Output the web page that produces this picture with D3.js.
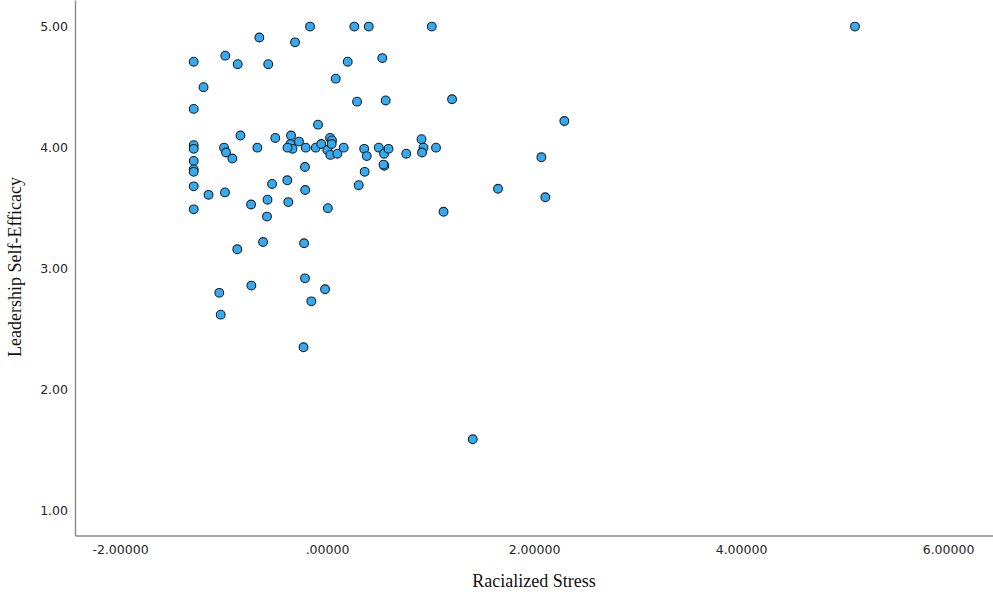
<!DOCTYPE html>
<html>
<head>
<meta charset="utf-8">
<script src="https://cdn.jsdelivr.net/npm/d3@7"></script>
<style>
  body { margin: 0; background: #fff; }
  svg { display: block; }
  .tick text { font-family: "DejaVu Sans", sans-serif; font-size: 12.5px; fill: #262626; }
  .title { font-family: "Liberation Serif", "Times New Roman", serif; font-size: 18px; fill: #111; }
</style>
</head>
<body>
<svg id="chart" width="993" height="592"></svg>
<script>
// racialized stress (x) and leadership self-efficacy (y)
const stress = [
  -1.288, -1.288, -1.288, -1.288, -1.288, -1.288, -1.288, -1.288, -1.288,
  -1.193, -1.145, -0.986, -0.995, -0.976, -0.915, -0.836, -0.673, -0.500,
  -0.983, -0.863, -0.654, -0.568, -0.309, -0.164, 0.264, 0.403, 1.012, 5.101,
  0.200, 0.534, 0.084, 0.290, 0.567, 1.208, -0.087,
  -0.734, -0.575, -0.580, -0.531, -0.384, -0.374, -0.213, -0.211, 0.008,
  -0.867, -0.618, -0.222, -0.213, -1.041, -0.731, -0.019, -0.152, -1.027, -0.227, 1.408,
  -0.348, -0.353, -0.333, -0.382, -0.271, -0.206, -0.109, -0.056, 0.003, 0.029,
  0.048, 0.045, 0.032, 0.100, 0.161, 0.359, 0.384, 0.500, 0.551, 0.594,
  0.765, 0.913, 0.932, 0.918, 1.053, 0.364, 0.554, 0.546, 0.306, 1.126,
  2.293, 2.071, 1.652, 2.109
];
const efficacy = [
  4.71, 4.32, 4.02, 3.99, 3.89, 3.82, 3.80, 3.68, 3.49,
  4.50, 3.61, 3.63, 4.00, 3.96, 3.91, 4.10, 4.00, 4.08,
  4.76, 4.69, 4.91, 4.69, 4.87, 5.00, 5.00, 5.00, 5.00, 5.00,
  4.71, 4.74, 4.57, 4.38, 4.39, 4.40, 4.19,
  3.53, 3.57, 3.43, 3.70, 3.73, 3.55, 3.84, 3.65, 3.50,
  3.16, 3.22, 3.21, 2.92, 2.80, 2.86, 2.83, 2.73, 2.62, 2.35, 1.59,
  4.10, 4.03, 3.99, 4.00, 4.05, 4.00, 4.00, 4.03, 3.98, 4.08,
  4.06, 4.03, 3.94, 3.95, 4.00, 3.99, 3.93, 4.00, 3.95, 3.99,
  3.95, 4.07, 4.00, 3.96, 4.00, 3.80, 3.85, 3.86, 3.69, 3.47,
  4.22, 3.92, 3.66, 3.59
];
const xTicks = [-2, 0, 2, 4, 6];
const yTicks = [1, 2, 3, 4, 5];

const svg = d3.select('#chart');
const left = 75, bottom = 535.5;

const x = d3.scaleLinear().domain([-2.435, 6.5]).range([left, left + 8.935 * 103.5]);
const y = d3.scaleLinear().domain([0.795, 5.22]).range([bottom, 0]);

// x labels keep SPSS style: 5 decimals, no leading zero for 0
const fmtX = d => d === 0 ? '.00000' : d3.format('.5f')(d).replace('−', '-');

const xAxis = svg.append('g')
  .attr('transform', `translate(0,${bottom})`)
  .call(d3.axisBottom(x).tickValues(xTicks).tickFormat(fmtX).tickSize(0).tickPadding(10));
xAxis.select('.domain').attr('stroke', '#8a8a8a').attr('stroke-width', 1.4);

const yAxis = svg.append('g')
  .attr('transform', `translate(${left},0)`)
  .call(d3.axisLeft(y).tickValues(yTicks).tickFormat(d3.format('.2f')).tickSize(0).tickPadding(7));
yAxis.select('.domain').attr('stroke', '#8a8a8a').attr('stroke-width', 1.4);

svg.append('text')
  .attr('class', 'title')
  .attr('x', 534).attr('y', 587)
  .attr('text-anchor', 'middle')
  .text('Racialized Stress');

svg.append('text')
  .attr('class', 'title')
  .attr('transform', 'translate(21,267) rotate(-90)')
  .attr('text-anchor', 'middle')
  .text('Leadership Self-Efficacy');

const pts = stress.map((s, i) => ({ s, e: efficacy[i] }));

svg.append('g')
  .selectAll('circle')
  .data(pts)
  .join('circle')
  .attr('cx', d => x(d.s))
  .attr('cy', d => y(d.e))
  .attr('r', 4.4)
  .attr('fill', '#33aaf2')
  .attr('stroke', '#1a232b')
  .attr('stroke-width', 1.1);
</script>
</body>
</html>
